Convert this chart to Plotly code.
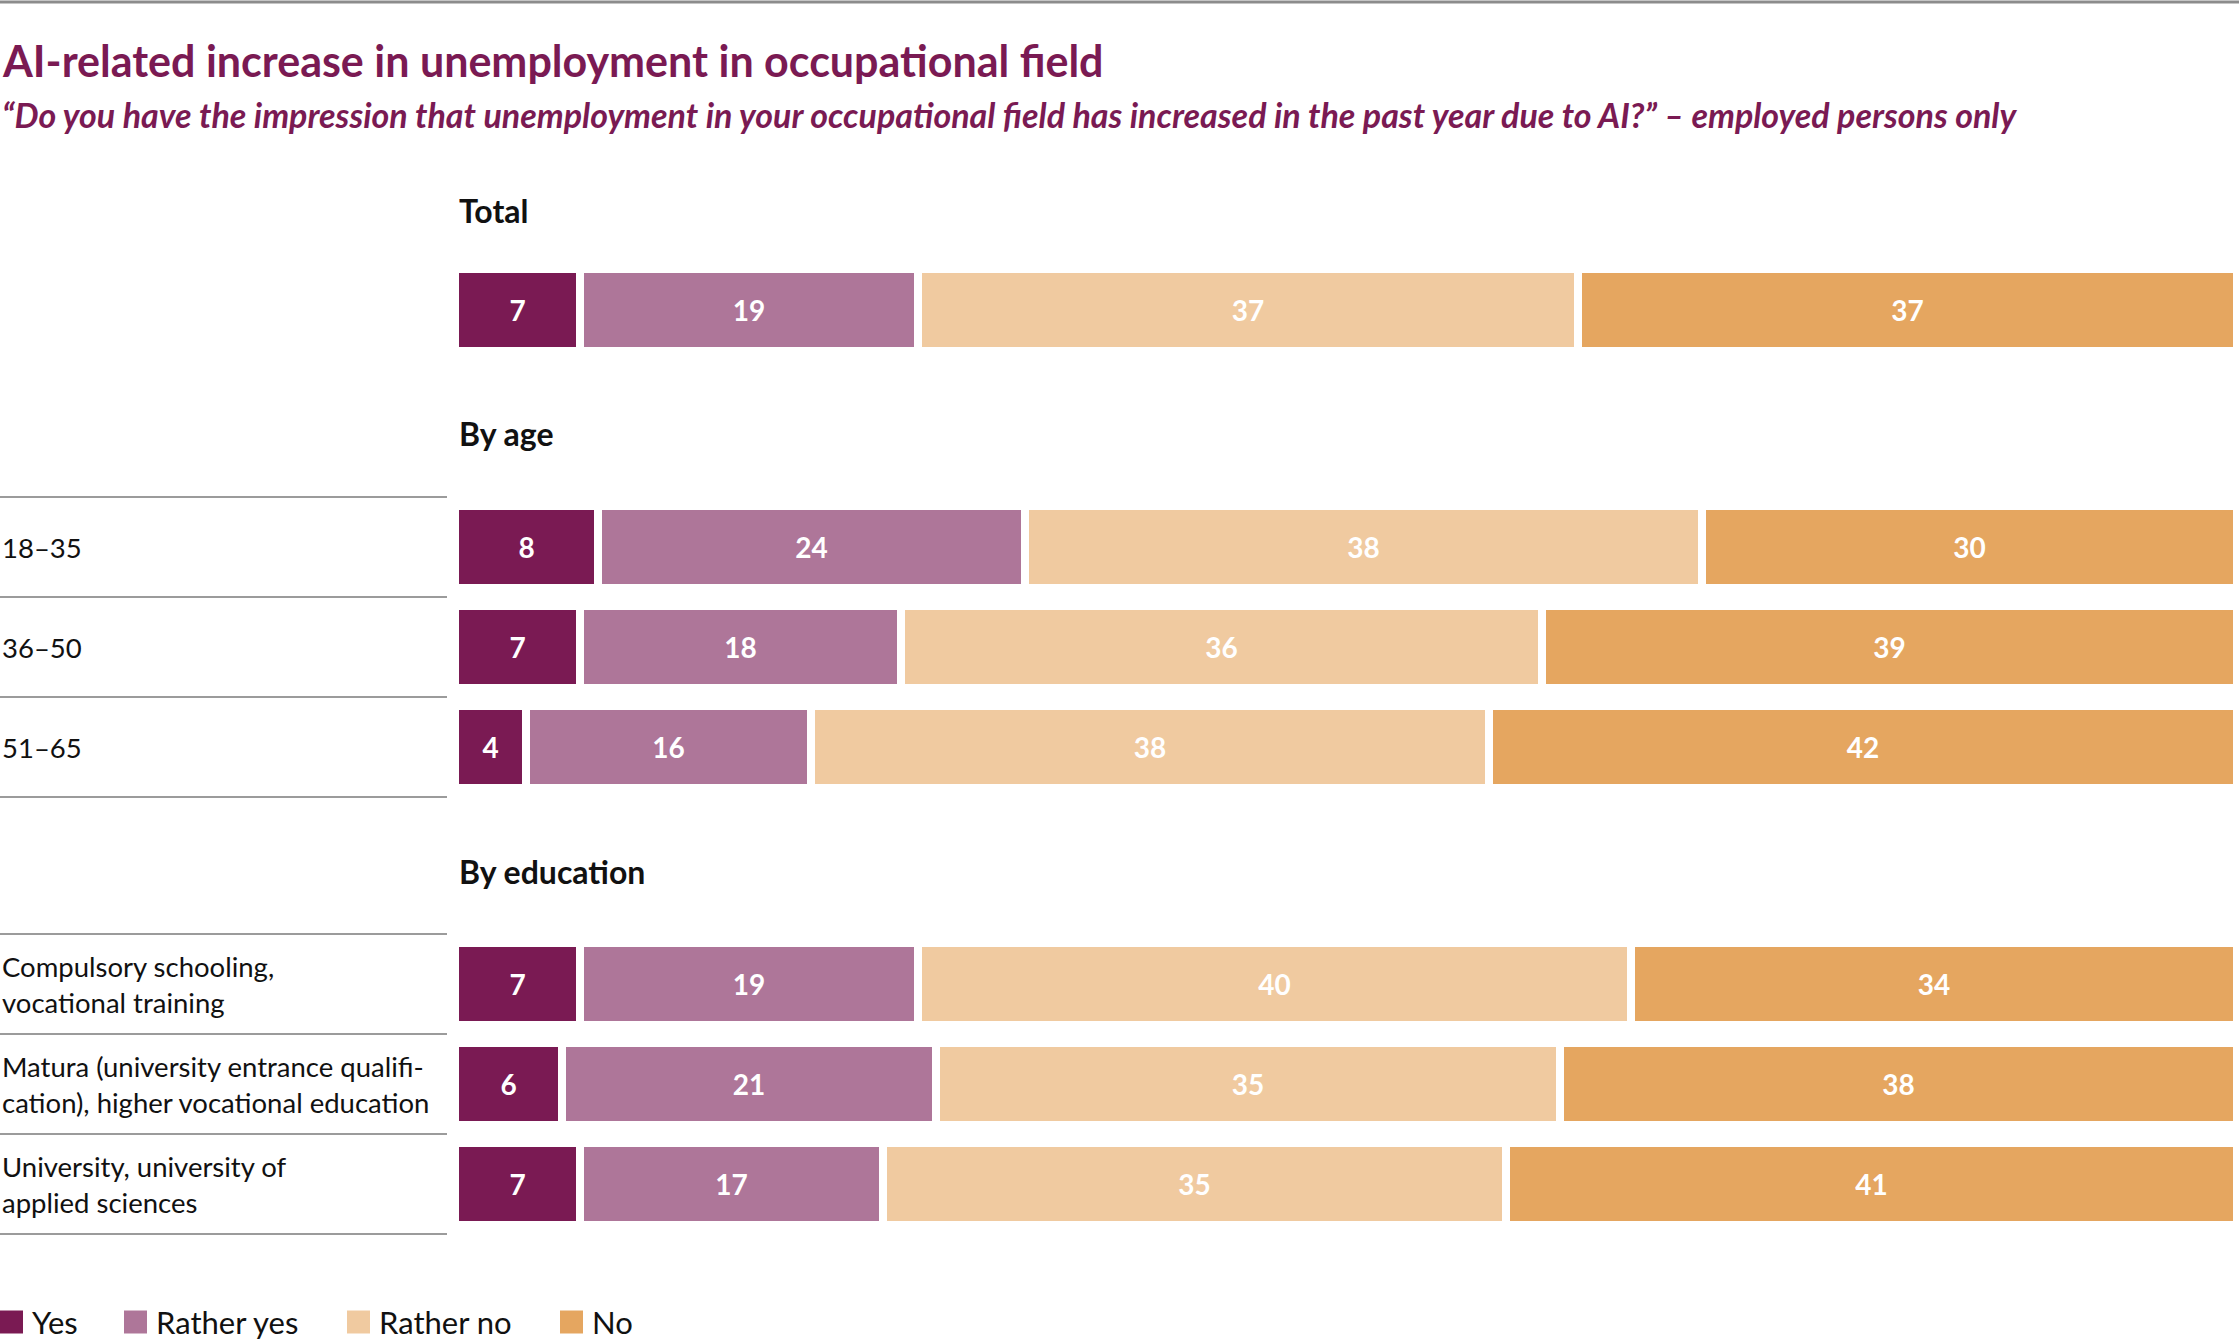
import plotly.graph_objects as go

# ---------------- data ----------------
series_names = ["Yes", "Rather yes", "Rather no", "No"]
series_colors = ["#7A1A53", "#AE7699", "#F0CAA0", "#E5A660"]

row_labels = [
    "",
    "18–35",
    "36–50",
    "51–65",
    "Compulsory schooling,<br>vocational training",
    "Matura (university entrance qualifi-<br>cation), higher vocational education",
    "University, university of<br>applied sciences",
]
yes        = [7, 8, 7, 4, 7, 6, 7]
rather_yes = [19, 24, 18, 16, 19, 21, 17]
rather_no  = [37, 38, 36, 38, 40, 35, 35]
no         = [37, 30, 39, 42, 34, 38, 41]

group_titles = ["Total", "By age", "By education"]
group_rows = [[0], [1, 2, 3], [4, 5, 6]]

title_text = "AI-related increase in unemployment in occupational field"
subtitle_text = ("“Do you have the impression that unemployment in your occupational field "
                 "has increased in the past year due to AI?” – employed persons only")

# ---------------- layout constants ----------------
W, H = 2239, 1341
FONT = "Lato"
PLUM = "#7A1A53"
FIRST_ROW = 3.10        # y units: 1 unit = 100 px
GROUP_GAP = 2.37
HEADER_OFFSETS = [1.0, 1.14, 1.13]
BAR_LEFT_PX, BAR_RIGHT_PX = 455, 2237
LABEL_LINE_END = 447 / W
GAP = 8

# compute row positions
positions = [None] * len(row_labels)
header_pos = []
cursor = FIRST_ROW
for gi, rows in enumerate(group_rows):
    header_pos.append(cursor - HEADER_OFFSETS[gi])
    for r in rows:
        positions[r] = cursor
        cursor += 1
    cursor += GROUP_GAP - 1

fig = go.Figure()
values = [yes, rather_yes, rather_no, no]
for name, color, vals in zip(series_names, series_colors, values):
    fig.add_trace(go.Bar(
        orientation="h", x=vals, y=positions, name=name,
        marker=dict(color=color, line=dict(color="white", width=GAP)),
        width=0.74 + GAP / 100,
        text=vals, texttemplate="%{text}", textposition="inside",
        insidetextanchor="middle", constraintext="none", textangle=0,
        textfont=dict(family=FONT, size=28, color="white", weight="bold"),
        hoverinfo="skip", showlegend=False,
    ))

shapes = []
annotations = []

# top rule
shapes.append(dict(type="line", xref="paper", yref="y", x0=0, x1=1, y0=0.02, y1=0.02,
                   line=dict(color="#8C8C8C", width=3)))

# title / subtitle
annotations.append(dict(xref="paper", yref="y", x=0, y=0.60, xanchor="left", yanchor="middle",
                        text=title_text, showarrow=False,
                        font=dict(family=FONT, size=43, color=PLUM, weight="bold")))
annotations.append(dict(xref="paper", yref="y", x=0, y=1.14, xanchor="left", yanchor="middle",
                        text=subtitle_text, showarrow=False,
                        font=dict(family=FONT, size=34, color=PLUM, weight="bold", style="italic")))

# group headers
for gt, hp in zip(group_titles, header_pos):
    annotations.append(dict(xref="x", yref="y", x=0, y=hp, xanchor="left", yanchor="middle",
                            text=gt, showarrow=False, xshift=2,
                            font=dict(family=FONT, size=32, color="#111111", weight="bold")))

# row labels and separators
for gi, rows in enumerate(group_rows):
    if all(row_labels[r] == "" for r in rows):
        continue
    first = positions[rows[0]]
    shapes.append(dict(type="line", xref="paper", yref="y", x0=0, x1=LABEL_LINE_END,
                       y0=first - 0.5, y1=first - 0.5, line=dict(color="#9B9B9B", width=2)))
    for r in rows:
        p = positions[r]
        shapes.append(dict(type="line", xref="paper", yref="y", x0=0, x1=LABEL_LINE_END,
                           y0=p + 0.5, y1=p + 0.5, line=dict(color="#9B9B9B", width=2)))
        annotations.append(dict(xref="paper", yref="y", x=0, y=p, xanchor="left", yanchor="middle",
                                text=row_labels[r], showarrow=False, align="left",
                                font=dict(family=FONT, size=27.5, color="#111111")))

# manual legend
legend_x_px = [0, 124, 347, 560]
for name, color, lx in zip(series_names, series_colors, legend_x_px):
    shapes.append(dict(type="rect", xref="paper", yref="y", x0=lx / W, x1=(lx + 23) / W,
                       y0=13.105, y1=13.335, fillcolor=color, line=dict(width=0)))
    annotations.append(dict(xref="paper", yref="y", x=(lx + 30) / W, y=13.22,
                            xanchor="left", yanchor="middle", text=name, showarrow=False,
                            font=dict(family=FONT, size=31, color="#111111")))

fig.update_layout(
    width=W, height=H,
    margin=dict(l=0, r=0, t=0, b=0),
    barmode="stack", bargap=0,
    paper_bgcolor="white", plot_bgcolor="white",
    xaxis=dict(domain=[BAR_LEFT_PX / W, BAR_RIGHT_PX / W], range=[0, 100], visible=False,
               fixedrange=True),
    yaxis=dict(range=[H / 100, 0], visible=False, fixedrange=True),
    shapes=shapes, annotations=annotations,
    showlegend=False,
)

fig.write_html("out.html")
